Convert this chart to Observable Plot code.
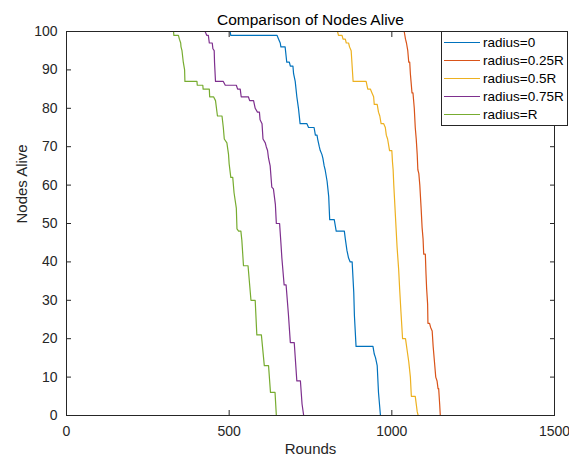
<!DOCTYPE html>
<html>
<head>
<meta charset="utf-8">
<script src="https://cdn.jsdelivr.net/npm/d3@7"></script>
<script src="https://cdn.jsdelivr.net/npm/@observablehq/plot@0.6"></script>
<style>
  html, body { margin: 0; padding: 0; background: #fff; }
  #wrap { position: relative; width: 569px; height: 462px; font-family: "Liberation Sans", Arial, sans-serif; overflow: hidden; }
  #legend { position: absolute; left: 441px; top: 31px; }
</style>
</head>
<body>
<div id="wrap"></div>
<script>
const seriesNames = ["radius=0", "radius=0.25R", "radius=0.5R", "radius=0.75R", "radius=R"];
const seriesColors = ["#0072BD", "#D95319", "#EDB120", "#7E2F8E", "#77AC30"];

const roundsR0 = [0,503,505,647,652,657,659,672,677,685,688,696,698,703,708,713,718,739,744,761,765,770,772,777,780,785,788,792,795,801,806,809,823,829,854,857,862,867,872,878,883,885,890,942,946,950,955,959,965,1500];
const nodesR0  = [100,100,99,99,98,97,96,96,92,92,91,91,89,87,83,80,76,76,75,75,73,73,72,70,69,68,67,65,64,61,57,51,51,48,48,46,43,41,40,40,32,26,18,18,16,15,13,6,0,0];

const roundsR025 = [0,1038,1042,1045,1049,1052,1055,1057,1059,1062,1065,1069,1072,1075,1078,1080,1083,1086,1090,1093,1096,1098,1103,1105,1107,1110,1111,1116,1119,1124,1127,1131,1135,1139,1142,1144,1147,1149,1500];
const nodesR025  = [100,100,98,97,95,92,92,89,87,84,84,80,75,72,68,64,63,60,54,49,46,42,42,37,33,29,24,24,23,22,18,14,10,9,7,7,3,0,0];

const roundsR05 = [0,833,836,847,850,857,860,867,870,875,881,921,926,934,939,944,946,955,959,963,967,975,980,983,987,993,1000,1002,1004,1006,1011,1016,1021,1024,1028,1033,1042,1047,1052,1057,1060,1072,1078,1081,1500];
const nodesR05  = [100,100,99,99,98,98,97,97,96,95,87,87,85,85,84,83,81,81,79,78,76,76,75,73,72,69,69,66,64,60,52,44,38,33,27,20,20,17,14,10,5,5,1,0,0];

const roundsR075 = [0,426,431,436,439,448,450,454,455,458,482,488,522,526,534,537,542,559,563,575,580,587,593,595,601,604,611,614,618,621,626,631,636,642,645,655,659,662,669,675,682,688,700,708,719,724,729,1500];
const nodesR075  = [100,100,99,99,97,97,95.5,95,92,87,87,86,86,85,85,83,83,83,82,82,80,79,79,77,76,72,71,70,69,67,65,59.5,59,55,50,50,45,41,34,34,26.5,19,19,9,9,3,0,0];

const roundsR1 = [0,329,330,344,347,351,352,355,359,363,364,401,402,419,420,439,440,452,458,464,478,482,485,493,498,500,505,511,515,522,524,529,536,539,544,558,563,567,580,585,599,608,621,627,641,645,1500];
const nodesR1  = [100,100,99,99,98,97,96,95,92,90,87,87,86,86,85,85,83,83,82,78,78,75,72,71,68,65.5,62,62,58,54,48.6,48,48,45.6,39,39,34,30,30,21,21,13,13,6,6,0,0];

const xTicks = [0, 500, 1000, 1500];
const yTicks = [0, 10, 20, 30, 40, 50, 60, 70, 80, 90, 100];
const titleText = "Comparison of Nodes Alive";
const xLabel = "Rounds";
const yLabel = "Nodes Alive";

const allRounds = [roundsR0, roundsR025, roundsR05, roundsR075, roundsR1];
const allNodes = [nodesR0, nodesR025, nodesR05, nodesR075, nodesR1];
const table = [];
seriesNames.forEach((name, i) => {
  allRounds[i].forEach((r, j) => table.push({series: name, round: r, nodes: allNodes[i][j]}));
});

const ink = "#262626";
const fmt = d => String(d);
const chart = Plot.plot({
  width: 569,
  height: 462,
  marginLeft: 66,
  marginRight: 15,
  marginTop: 31,
  marginBottom: 47,
  style: {fontFamily: "'Liberation Sans', Arial, sans-serif", fontSize: "14px", color: ink, background: "#fff", overflow: "visible"},
  x: {domain: [0, 1500], ticks: xTicks},
  y: {domain: [0, 100], ticks: yTicks},
  color: {domain: seriesNames, range: seriesColors},
  marks: [
    Plot.line(table, {x: "round", y: "nodes", z: "series", stroke: "series", strokeWidth: 1.2}),
    Plot.frame({stroke: ink, strokeWidth: 1}),
    Plot.axisX(xTicks, {anchor: "bottom", tickSize: -5, tickFormat: () => "", label: null, stroke: ink}),
    Plot.axisX(xTicks, {anchor: "top", tickSize: -5, tickFormat: () => "", label: null, stroke: ink}),
    Plot.axisX(xTicks, {anchor: "bottom", tickSize: 0, tickPadding: 11, tickFormat: fmt, label: null, fill: ink, fontSize: 14}),
    Plot.axisY(yTicks, {anchor: "left", tickSize: -5, tickFormat: () => "", label: null, stroke: ink}),
    Plot.axisY(yTicks, {anchor: "right", tickSize: -5, tickFormat: () => "", label: null, stroke: ink}),
    Plot.axisY(yTicks, {anchor: "left", tickSize: 0, tickPadding: 9, tickFormat: fmt, label: null, fill: ink, fontSize: 14}),
    Plot.text([titleText], {frameAnchor: "top", dy: -18, fontSize: 15.5, fill: "#000"}),
    Plot.text([xLabel], {frameAnchor: "bottom", dy: 38, fontSize: 15, fill: ink}),
    Plot.text([yLabel], {frameAnchor: "left", dx: -44, rotate: -90, fontSize: 15, fill: ink})
  ]
});
const wrap = document.getElementById("wrap");
wrap.appendChild(chart);

// Legend box
const lw = 127, lh = 95, rowTop = 11.5, rowStep = 18;
const leg = d3.create("svg").attr("id", "legend").attr("width", lw).attr("height", lh);
leg.append("rect").attr("x", 0.5).attr("y", 0.5).attr("width", lw - 1).attr("height", lh - 1)
  .attr("fill", "#fff").attr("stroke", ink).attr("stroke-width", 1);
seriesNames.forEach((name, i) => {
  const cy = rowTop + i * rowStep;
  leg.append("line").attr("x1", 3).attr("x2", 39).attr("y1", cy).attr("y2", cy)
    .attr("stroke", seriesColors[i]).attr("stroke-width", 1.2);
  leg.append("text").attr("x", 42).attr("y", cy).attr("dy", "0.35em")
    .attr("font-family", "'Liberation Sans', Arial, sans-serif").attr("font-size", 13.5)
    .attr("fill", "#000").text(name);
});
wrap.appendChild(leg.node());
</script>
</body>
</html>
